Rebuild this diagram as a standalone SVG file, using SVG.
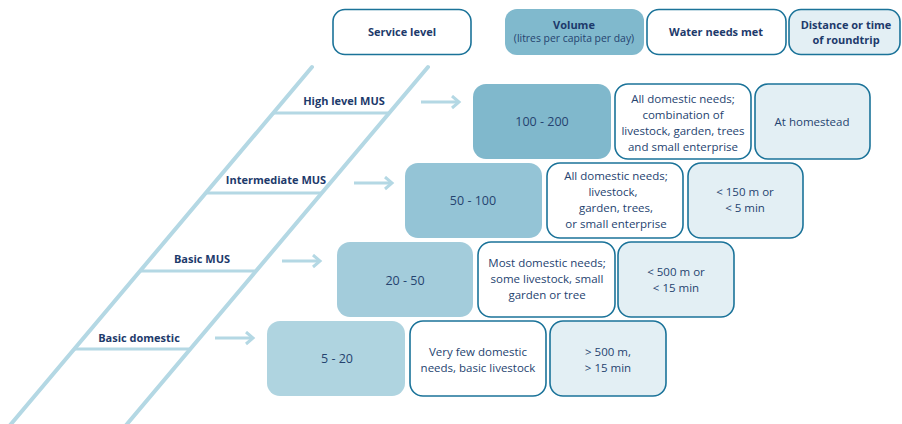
<svg xmlns="http://www.w3.org/2000/svg" width="902" height="424" viewBox="0 0 902 424">
<defs>
<style>
.lad{stroke:#b4d8e4;stroke-width:4;fill:none;stroke-linecap:round}
.rung{stroke:#b4d8e4;stroke-width:3;fill:none}
.arr{stroke:#b4d8e4;stroke-width:3;fill:none}
.out{fill:#ffffff;stroke:#1b7399;stroke-width:1.6}
.dist{fill:#e3eff4;stroke:#1b7399;stroke-width:1.6}
.lbl{font-family:"Open Sans","DejaVu Sans",sans-serif;font-weight:bold;font-size:11px;fill:#1d3a6b;text-anchor:middle}
.txt{font-family:"Open Sans","DejaVu Sans",sans-serif;font-size:11.5px;fill:#25436f;text-anchor:middle}
.num{font-family:"Open Sans","DejaVu Sans",sans-serif;font-size:12.5px;fill:#25436f;text-anchor:middle}
.sub{font-family:"Open Sans","DejaVu Sans",sans-serif;font-size:10.4px;fill:#25436f;text-anchor:middle}
</style>
<marker id="ah" markerUnits="userSpaceOnUse" markerWidth="14" markerHeight="16" refX="9" refY="7" orient="auto">
<path d="M2,1 L9,7 L2,13" fill="none" stroke="#b4d8e4" stroke-width="3"/>
</marker>
</defs>

<g id="ladder">
<line class="lad" x1="312" y1="67" x2="6" y2="430"/>
<line class="lad" x1="428" y1="67" x2="122" y2="430"/>
<line class="rung" x1="273" y1="113" x2="389" y2="113"/>
<line class="rung" x1="206" y1="193" x2="322" y2="193"/>
<line class="rung" x1="140" y1="271" x2="256" y2="271"/>
<line class="rung" x1="75" y1="349" x2="191" y2="349"/>
<text class="lbl" x="344" y="105">High level MUS</text>
<text class="lbl" x="276" y="184">Intermediate MUS</text>
<text class="lbl" x="202" y="263">Basic MUS</text>
<text class="lbl" x="139" y="342">Basic domestic</text>
</g>

<g id="connectors">
<line class="arr" x1="421" y1="102" x2="459" y2="102" marker-end="url(#ah)"/>
<line class="arr" x1="354" y1="183" x2="392" y2="183" marker-end="url(#ah)"/>
<line class="arr" x1="282" y1="261" x2="320" y2="261" marker-end="url(#ah)"/>
<line class="arr" x1="215" y1="338" x2="253" y2="338" marker-end="url(#ah)"/>
</g>

<g id="header-service">
<rect class="out" x="333" y="9.5" width="138" height="45" rx="12"/>
<text class="lbl" x="402" y="36">Service level</text>
</g>
<g id="header-volume">
<rect x="505" y="9" width="139" height="46" rx="12" fill="#80b9cd"/>
<text class="lbl" x="574" y="29">Volume</text>
<text class="sub" x="574" y="42">(litres per capita per day)</text>
</g>
<g id="header-needs">
<rect class="out" x="647" y="9.5" width="139" height="45" rx="12"/>
<text class="lbl" x="716" y="36">Water needs met</text>
</g>
<g id="header-distance">
<rect class="dist" x="789" y="9.5" width="111" height="45" rx="12"/>
<text class="lbl" x="846" y="29">Distance or time</text>
<text class="lbl" x="846" y="44">of roundtrip</text>
</g>

<g id="high-volume">
<rect x="473" y="84" width="138" height="75" rx="13" fill="#80b8cc"/>
<text class="num" x="542" y="126">100 - 200</text>
</g>
<g id="high-needs">
<rect class="out" x="615" y="84" width="136" height="75" rx="13"/>
<text class="txt" x="683" y="103">All domestic needs;</text>
<text class="txt" x="683" y="119">combination of</text>
<text class="txt" x="683" y="135">livestock, garden, trees</text>
<text class="txt" x="683" y="151">and small enterprise</text>
</g>
<g id="high-distance">
<rect class="dist" x="755" y="84" width="115" height="75" rx="13"/>
<text class="txt" x="812" y="126">At homestead</text>
</g>

<g id="intermediate-volume">
<rect x="405" y="163" width="137" height="75" rx="13" fill="#94c4d6"/>
<text class="num" x="473" y="205">50 - 100</text>
</g>
<g id="intermediate-needs">
<rect class="out" x="547" y="163" width="136" height="75" rx="13"/>
<text class="txt" x="616" y="180">All domestic needs;</text>
<text class="txt" x="613" y="196">livestock,</text>
<text class="txt" x="616" y="212">garden, trees,</text>
<text class="txt" x="616" y="228">or small enterprise</text>
</g>
<g id="intermediate-distance">
<rect class="dist" x="688" y="163" width="115" height="75" rx="13"/>
<text class="txt" x="745" y="196">&lt; 150 m or</text>
<text class="txt" x="745" y="212">&lt; 5 min</text>
</g>

<g id="basicmus-volume">
<rect x="337" y="242" width="136" height="75" rx="13" fill="#a3ccdb"/>
<text class="num" x="405" y="285">20 - 50</text>
</g>
<g id="basicmus-needs">
<rect class="out" x="478" y="242" width="137" height="75" rx="13"/>
<text class="txt" x="547" y="267">Most domestic needs;</text>
<text class="txt" x="547" y="283">some livestock, small</text>
<text class="txt" x="547" y="299">garden or tree</text>
</g>
<g id="basicmus-distance">
<rect class="dist" x="618" y="242" width="116" height="75" rx="13"/>
<text class="txt" x="676" y="276">&lt; 500 m or</text>
<text class="txt" x="676" y="292">&lt; 15 min</text>
</g>

<g id="basicdom-volume">
<rect x="267" y="321" width="138" height="75" rx="13" fill="#afd4e0"/>
<text class="num" x="337" y="363">5 - 20</text>
</g>
<g id="basicdom-needs">
<rect class="out" x="410" y="321" width="136" height="75" rx="13"/>
<text class="txt" x="478" y="356">Very few domestic</text>
<text class="txt" x="478" y="372">needs, basic livestock</text>
</g>
<g id="basicdom-distance">
<rect class="dist" x="550" y="321" width="116" height="75" rx="13"/>
<text class="txt" x="608" y="356">&gt; 500 m,</text>
<text class="txt" x="608" y="372">&gt; 15 min</text>
</g>
</svg>
